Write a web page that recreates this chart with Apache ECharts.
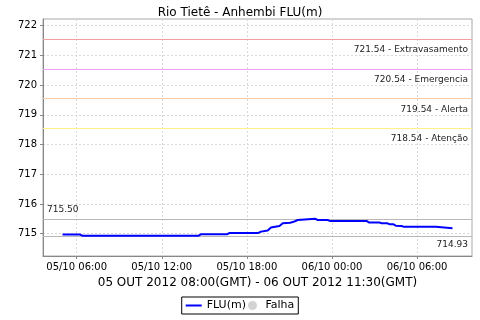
<!DOCTYPE html>
<html>
<head>
<meta charset="utf-8">
<script src="https://cdn.jsdelivr.net/npm/echarts@6/dist/echarts.min.js"></script>
<style>html,body{margin:0;padding:0;background:#fff}#c{width:480px;height:320px}</style>
</head>
<body>
<div id="c"></div>
<script>
// Time in hours from 05/10 00:00 (local), values in m
var times = [5.0, 6.25, 6.42, 14.58, 14.75, 16.6, 16.75, 18.77, 19.0, 19.47, 19.7, 20.3, 20.53, 21.05, 21.3, 21.58, 21.72, 22.83, 23.0, 23.69, 23.85, 26.44, 26.6, 27.33, 27.5, 27.89, 28.05, 28.31, 28.5, 28.9, 29.09, 31.32, 31.43, 32.5];
var values = [714.97, 714.97, 714.93, 714.93, 714.98, 714.98, 715.02, 715.02, 715.07, 715.11, 715.21, 715.26, 715.35, 715.37, 715.40, 715.46, 715.50, 715.50, 715.46, 715.46, 715.43, 715.43, 715.38, 715.38, 715.35, 715.35, 715.32, 715.32, 715.27, 715.26, 715.23, 715.23, 715.18, 715.18];
var xTickHours = [6, 12, 18, 24, 30];
var xTickLabels = ['05/10 06:00', '05/10 12:00', '05/10 18:00', '06/10 00:00', '06/10 06:00'];
var yTicks = [715, 716, 717, 718, 719, 720, 721, 722];
var thresholdValues = [721.54, 720.54, 719.54, 718.54];
var thresholdNames = ['Extravasamento', 'Emergencia', 'Alerta', 'Atenção'];
var thresholdColors = ['#f2a0a0', '#eea0f4', '#f8cca8', '#fff088'];
var maxValue = 715.50, minValue = 714.93;

var font = 'DejaVu Sans';
var seriesData = times.map(function (t, i) { return [t, values[i]]; });

function refLineSeries(name, v, color, text, pos, dist) {
  return {
    name: name, type: 'line', data: [], symbol: 'none', color: color, silent: true,
    markLine: {
      silent: true, symbol: 'none', animation: false,
      lineStyle: { color: color, type: 'solid', width: 1, opacity: 1 },
      label: { formatter: text, position: pos, distance: dist, color: '#222', fontFamily: font, fontSize: 9 },
      data: [{ yAxis: v }]
    }
  };
}

var series = [
  {
    name: 'FLU(m)', type: 'line', data: seriesData, symbol: 'none', z: 5,
    lineStyle: { color: '#0000ff', width: 2 }, itemStyle: { color: '#0000ff' }
  },
  { name: 'Falha', type: 'scatter', data: [], symbol: 'circle', itemStyle: { color: '#c8c8c8' } }
];
thresholdValues.forEach(function (v, i) {
  series.push(refLineSeries('ref' + i, v, thresholdColors[i], v.toFixed(2) + ' - ' + thresholdNames[i], 'insideEndBottom', [4, 6]));
});
series.push(refLineSeries('refMax', maxValue, '#b8b8b8', maxValue.toFixed(2), 'insideStartTop', [4, 5]));
series.push(refLineSeries('refMin', minValue, '#b8b8b8', minValue.toFixed(2), 'insideEndBottom', [4, 4]));

var chart = echarts.init(document.getElementById('c'), null, { renderer: 'canvas' });
chart.setOption({
  animation: false,
  backgroundColor: '#fff',
  title: {
    text: 'Rio Tietê - Anhembi FLU(m)', left: 'center', top: 2,
    textStyle: { fontFamily: font, fontSize: 12, fontWeight: 'normal', color: '#000' }
  },
  grid: { left: 43, right: 8, top: 19, bottom: 64, show: true, borderColor: '#a8a8a8', borderWidth: 1 },
  xAxis: {
    type: 'value', min: 3.625, max: 33.875,
    name: '05 OUT 2012 08:00(GMT) - 06 OUT 2012 11:30(GMT)',
    nameLocation: 'middle', nameGap: 20,
    nameTextStyle: { fontFamily: font, fontSize: 12, color: '#000' },
    axisLine: { lineStyle: { color: '#888' } },
    axisTick: { customValues: xTickHours, length: 3, lineStyle: { color: '#888' } },
    axisLabel: {
      customValues: xTickHours, fontFamily: font, fontSize: 10, color: '#000', margin: 6,
      formatter: function (v) { var i = xTickHours.indexOf(v); return i >= 0 ? xTickLabels[i] : ''; }
    },
    splitLine: { show: true, lineStyle: { color: '#d8d8d8', type: [2, 2] } }
  },
  yAxis: {
    type: 'value', min: 714.25, max: 722.22,
    axisLine: { show: true, lineStyle: { color: '#888' } },
    axisTick: { show: true, customValues: yTicks, length: 3, lineStyle: { color: '#888' } },
    axisLabel: { customValues: yTicks, fontFamily: font, fontSize: 10, color: '#000', margin: 6 },
    splitLine: { show: true, lineStyle: { color: '#d8d8d8', type: [2, 2] } }
  },
  legend: {
    bottom: 6, left: 'center',
    data: [
      { name: 'FLU(m)', icon: 'path://M0,0 L16,0 L16,2 L0,2 Z' },
      { name: 'Falha', icon: 'circle' }
    ],
    itemWidth: 16, itemHeight: 9, itemGap: 2,
    borderColor: '#000', borderWidth: 1, padding: [3, 4],
    textStyle: { fontFamily: font, fontSize: 11, color: '#000' }
  },
  series: series
});
</script>
</body>
</html>
